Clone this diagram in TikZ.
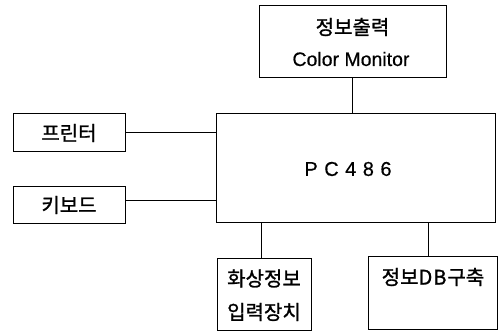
\documentclass[tikz,border=0pt]{standalone}
\usepackage{fontspec}
\setmainfont{Liberation Sans}
\newfontfamily\kr[FakeBold=1.2]{Noto Sans CJK KR}
\newfontfamily\lt[FakeBold=0.5]{Liberation Sans}
\begin{document}
\begin{tikzpicture}[x=1pt,y=-1pt,
  box/.style={draw=black,line width=1pt,rectangle,inner sep=0pt},
  conn/.style={draw=black,line width=1pt},
  ktext/.style={font=\kr\fontsize{20}{20}\selectfont,inner sep=0pt},
  ltext/.style={font=\lt\fontsize{19.5}{19.5}\selectfont,inner sep=0pt}]
\useasboundingbox (0,0) rectangle (503,331);
\node[box,minimum width=187pt,minimum height=72pt] (top) at (352.5,42) {};
\node[ktext] (toptext1) at (352.5,27) {정보출력};
\node[ltext] (toptext2) at (351,59) {Color Monitor};
\node[box,minimum width=279pt,minimum height=108pt] (pc) at (355.5,168) {};
\node[font=\lt\fontsize{20}{20}\selectfont,inner sep=0pt] (pctext) at (348,169) {P\hspace{6.5pt}C\hspace{6.5pt}4\hspace{6.5pt}8\hspace{6.5pt}6};
\node[box,minimum width=112pt,minimum height=38pt,ktext] (prn) at (69,133) {프린터};
\node[box,minimum width=112pt,minimum height=36pt,ktext] (kbd) at (69,205) {키보드};
\node[box,minimum width=94pt,minimum height=72pt] (img) at (264,294) {};
\node[ktext] (imgtext1) at (264,278.5) {화상정보};
\node[ktext] (imgtext2) at (264,312) {입력장치};
\node[box,minimum width=129pt,minimum height=73pt] (db) at (432.5,292.5) {};
\node[ktext] (dbtext) at (433,277) {정보D\hspace{1pt}B\hspace{1pt}구축};
\draw[conn] (top.south) -- (top.south |- pc.north);
\draw[conn] (prn.east) -- (prn.east -| pc.west);
\draw[conn] (kbd.east |- 0,201) -- (pc.west |- 0,201);
\draw[conn] (img.north -| 261,0) -- (pc.south -| 261,0);
\draw[conn] (db.north -| 428,0) -- (pc.south -| 428,0);
\end{tikzpicture}
\end{document}
